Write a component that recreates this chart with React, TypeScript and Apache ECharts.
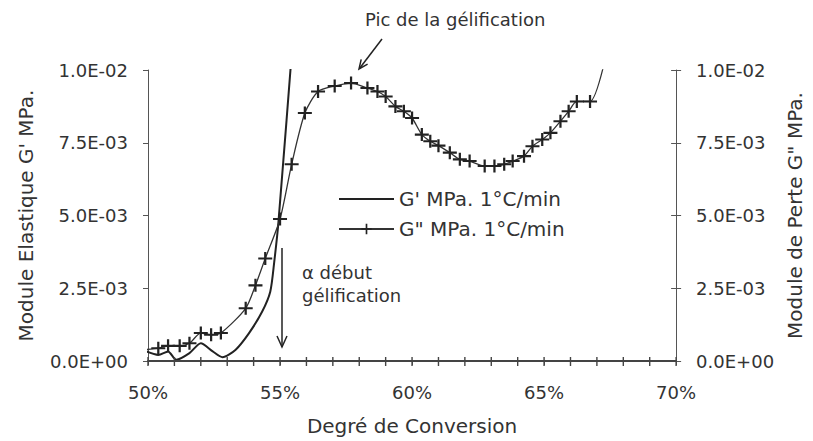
import React, { useEffect, useRef } from "react";
import * as echarts from "echarts";

// Degré de conversion (%)
const gpX = [49.8, 50.39, 50.76, 51.07, 51.57, 52.0, 52.45, 52.82, 53.32, 53.82, 54.32, 54.63, 54.78, 54.94, 55.6];
// G' (unités de 1E-03 MPa)
const gpY = [0.38, 0.21, 0.33, 0.04, 0.27, 0.61, 0.33, 0.13, 0.39, 0.95, 1.69, 2.38, 3.4, 4.77, 12.4];

const gppX = [49.8, 50.39, 50.76, 51.2, 51.57, 52.0, 52.39, 52.76, 53.7, 54.07, 54.44, 55.0, 55.44, 55.94, 56.44, 57.07, 57.69, 58.31, 58.69, 59.0, 59.37, 59.69, 60.0, 60.37, 60.69, 61.0, 61.43, 61.81, 62.18, 62.75, 63.12, 63.49, 63.81, 64.24, 64.56, 64.93, 65.24, 65.62, 65.93, 66.24, 66.74, 67.8];
// G" (unités de 1E-03 MPa)
const gppY = [0.38, 0.44, 0.52, 0.52, 0.61, 0.96, 0.9, 0.96, 1.81, 2.6, 3.52, 4.88, 6.76, 8.52, 9.26, 9.45, 9.55, 9.38, 9.26, 9.09, 8.75, 8.58, 8.35, 7.78, 7.55, 7.4, 7.16, 6.93, 6.87, 6.7, 6.7, 6.76, 6.87, 7.04, 7.38, 7.61, 7.84, 8.24, 8.58, 8.92, 8.92, 12.5];

const xTickValues = [50, 55, 60, 65, 70];
const xTickLabels = ["50%", "55%", "60%", "65%", "70%"];
const xMinorTicks = [50, 51, 52, 53, 54, 55, 56, 57, 58, 59, 60, 61, 62, 63, 64, 65, 66, 67, 68, 69, 70];
const nameGp = "G' MPa. 1°C/min";
const nameGpp = 'G" MPa. 1°C/min';

const FONT = "DejaVu Sans";
const TXT = "#333";
const AX = "#555";

function fmtSci(v: number): string {
  // v is in units of 1E-03
  if (v === 0) return "0.0E+00";
  const e = Math.floor(Math.log10(v) + 1e-9);
  const m = v / Math.pow(10, e);
  const exp = e - 3;
  return m.toFixed(1) + "E" + (exp < 0 ? "-" : "+") + String(Math.abs(exp)).padStart(2, "0");
}

export default function App() {
  const ref = useRef<HTMLDivElement>(null);
  useEffect(() => {
    if (!ref.current) return;
    const chart = echarts.init(ref.current, null, { renderer: "svg" });
    const plus = "path://M4.2,0H5.8V4.2H10V5.8H5.8V10H4.2V5.8H0V4.2H4.2Z";
    const yBase = {
      type: "value",
      min: 0,
      max: 10,
      interval: 2.5,
      splitLine: { show: false },
      axisLine: { show: true, onZero: false, lineStyle: { color: AX, width: 1 } },
    };
    chart.setOption({
      animation: false,
      backgroundColor: "#fff",
      textStyle: { fontFamily: FONT },
      grid: { left: 148, right: 130, top: 70, bottom: 78, containLabel: false },
      legend: {
        left: 338,
        top: 189,
        padding: 0,
        orient: "vertical",
        itemWidth: 55,
        itemHeight: 13,
        itemGap: 10,
        textStyle: { fontFamily: FONT, fontSize: 20, color: TXT },
        data: [
          { name: nameGp, itemStyle: { opacity: 0 } },
          { name: nameGpp },
        ],
      },
      xAxis: {
        type: "value",
        min: 50,
        max: 70,
        interval: 5,
        position: "bottom",
        z: 10,
        splitLine: { show: false },
        axisLine: { show: true, onZero: false, lineStyle: { color: "#444", width: 2 } },
        axisTick: { show: true, length: 4, lineStyle: { color: AX, width: 1 } },
        axisLabel: {
          margin: 22,
          fontFamily: FONT,
          fontSize: 18,
          color: TXT,
          formatter: (v: number) => {
            const i = xTickValues.indexOf(Math.round(v));
            return i >= 0 ? xTickLabels[i] : "";
          },
        },
        name: "Degré de Conversion",
        nameLocation: "middle",
        nameGap: 55,
        nameTextStyle: { fontFamily: FONT, fontSize: 20, color: TXT },
      },
      yAxis: [
        {
          ...yBase,
          position: "left",
          axisTick: { show: true, length: 5, lineStyle: { color: AX } },
          axisLabel: { margin: 20, fontFamily: FONT, fontSize: 18, color: TXT, formatter: fmtSci },
          name: "Module Elastique G' MPa.",
          nameLocation: "middle",
          nameRotate: 90,
          nameGap: 112,
          nameTextStyle: { fontFamily: FONT, fontSize: 20, color: TXT },
        },
        {
          ...yBase,
          position: "right",
          axisTick: { show: true, length: 5, lineStyle: { color: AX } },
          axisLabel: { margin: 20, fontFamily: FONT, fontSize: 18, color: TXT, formatter: fmtSci },
          name: 'Module de Perte G" MPa.',
          nameLocation: "middle",
          nameRotate: 90,
          nameGap: 102,
          nameTextStyle: { fontFamily: FONT, fontSize: 20, color: TXT },
        },
        {
          ...yBase,
          position: "right",
          axisLine: { show: false, onZero: false },
          axisTick: { show: true, inside: true, length: 5, lineStyle: { color: AX } },
          axisLabel: { show: false },
        },
      ],
      series: [
        {
          name: nameGp,
          type: "line",
          xAxisIndex: 0,
          yAxisIndex: 0,
          data: gpX.map((x, i) => [x, gpY[i]]),
          symbol: "none",
          smooth: 0.25,
          clip: true,
          lineStyle: { color: "#222", width: 2 },
          itemStyle: { color: "#222" },
        },
        {
          name: nameGpp,
          type: "line",
          xAxisIndex: 0,
          yAxisIndex: 1,
          data: gppX.map((x, i) => [x, gppY[i]]),
          symbol: plus,
          symbolSize: [14, 13],
          showAllSymbol: true,
          smooth: 0.25,
          clip: true,
          lineStyle: { color: "#333", width: 1.3 },
          itemStyle: { color: "#222" },
        },
      ],
    });

    // x-axis line and crossing tick marks, placed through the axes' own scales
    const y0 = chart.convertToPixel({ yAxisIndex: 0 }, 0) as number;
    const xa = chart.convertToPixel({ xAxisIndex: 0 }, 50) as number;
    const xb = chart.convertToPixel({ xAxisIndex: 0 }, 70) as number;
    const axisGraphics: any[] = [
      {
        type: "line",
        z: 100,
        shape: { x1: xa, y1: y0, x2: xb, y2: y0 },
        style: { stroke: "#444", lineWidth: 1.8 },
      },
      ...xMinorTicks.map((v) => {
        const px = chart.convertToPixel({ xAxisIndex: 0 }, v) as number;
        return {
          type: "line",
          z: 100,
          shape: { x1: px, y1: y0 - 4, x2: px, y2: y0 + 5 },
          style: { stroke: "#444", lineWidth: 1.4 },
        };
      }),
    ];

    chart.setOption({
      graphic: [
        {
          type: "text",
          left: 365,
          top: 10,
          style: { text: "Pic de la gélification", font: `18px "${FONT}"`, fill: TXT },
        },
        {
          type: "line",
          shape: { x1: 382, y1: 39, x2: 359.5, y2: 68.5 },
          style: { stroke: "#222", lineWidth: 1.5 },
        },
        {
          type: "polyline",
          shape: { points: [[367.6, 64.2], [359, 69], [361.2, 59.4]] },
          style: { stroke: "#222", lineWidth: 1.5, fill: "none" },
        },
        {
          type: "line",
          shape: { x1: 282, y1: 248, x2: 282, y2: 347 },
          style: { stroke: "#222", lineWidth: 1.5 },
        },
        {
          type: "polyline",
          shape: { points: [[277, 336], [282, 347], [287, 336]] },
          style: { stroke: "#222", lineWidth: 1.5, fill: "none" },
        },
        {
          type: "text",
          left: 302,
          top: 263,
          style: { text: "α début", font: `18px "${FONT}"`, fill: TXT },
        },
        {
          type: "text",
          left: 302,
          top: 286,
          style: { text: "gélification", font: `18px "${FONT}"`, fill: TXT },
        },
        ...axisGraphics,
      ],
    });
    return () => chart.dispose();
  }, []);
  return <div ref={ref} style={{ width: 813, height: 441, position: "absolute", left: 0, top: 0 }} />;
}
